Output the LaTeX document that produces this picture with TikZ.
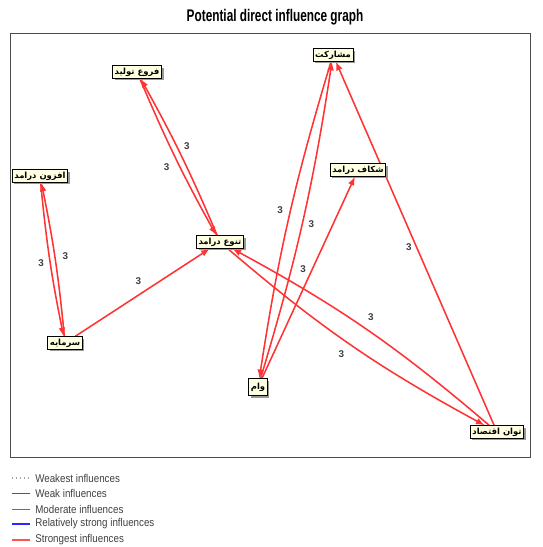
\documentclass[tikz,border=0pt]{standalone}
\usepackage{fontspec}
\setmainfont{Liberation Sans}
\newfontfamily\arabicfont[Script=Arabic]{DejaVu Sans}
\TeXXeTstate=1
\usetikzlibrary{shadows, arrows}
\definecolor{infred}{RGB}{255,51,51}
\definecolor{nodefill}{RGB}{255,255,225}
\definecolor{modblue}{RGB}{90,90,255}
\definecolor{strongblue}{RGB}{40,40,255}
\pgfdeclarelayer{bg}
\pgfsetlayers{bg,main}

\begin{document}
\begin{tikzpicture}[x=0.025cm, y=0.025cm,
    factor/.style={draw=black, fill=nodefill, line width=0.6pt, inner sep=1.5pt,
        font=\arabicfont\bfseries\fontsize{6}{7}\selectfont,
        drop shadow={shadow xshift=1.5pt, shadow yshift=-1.5pt, fill=gray!80, opacity=1}},
    weight/.style={font=\bfseries\fontsize{7}{8}\selectfont, text=black!75, inner sep=1pt},
    influence/.style={color=infred, line width=1.1pt, ->, >=latex},
    legendtext/.style={anchor=west, text=black!75, inner sep=0pt,
        font=\fontsize{8}{9}\selectfont}]
    \useasboundingbox (0,0) rectangle (542,-547);

    % title and frame
    \node[font=\bfseries\fontsize{12}{14}\selectfont] (title) at (275,-17)
        {\scalebox{0.7}[1]{Potential direct influence graph}};
    \draw[black!70, line width=0.6pt] (10,-33) rectangle (530,-457);

    % the factors
        \node[factor] (farua) at (137,-72) {\beginR فروع تولید\endR};
        \node[factor] (mosharekat) at (333,-55) {\beginR مشارکت\endR};
        \node[factor] (afzoon) at (40,-176) {\beginR افزون درامد\endR};
        \node[factor] (shekaf) at (358,-170) {\beginR شکاف درامد\endR};
        \node[factor] (tanavo) at (220,-242) {\beginR تنوع درامد\endR};
        \node[factor] (sarmaye) at (65,-343) {\beginR سرمایه\endR};
        \node[factor,
            inner ysep=3pt
            ] (vam) at (258,-387) {\beginR وام\endR};
        \node[factor] (tavan) at (497,-432) {\beginR توان اقتصاد\endR};

    % the influences
    \begin{pgfonlayer}{bg}
        \draw[influence]
            (farua) edge[bend right=3] node[weight, pos=0.56, left=6pt] {3} (tanavo)
            (tanavo) edge[bend right=3] node[weight, pos=0.57, right=4pt] {3} (farua)
            (afzoon) edge[bend right=3] node[weight, pos=0.52, left=3pt] {3} (sarmaye)
            (sarmaye) edge[bend right=3] node[weight, pos=0.52, right=4pt] {3} (afzoon)
            (sarmaye) edge node[weight, pos=0.47, above=6pt] {3} (tanavo)
            (vam) edge[bend right=4] node[weight, pos=0.49, right=3pt] {3} (mosharekat)
            (mosharekat) edge[bend right=4] node[weight, pos=0.47, left=4pt] {3} (vam)
            (vam) edge node[weight, pos=0.54, left=3pt] {3} (shekaf)
            (tavan) edge node[weight, pos=0.49, left=2pt] {3} (mosharekat)
            (tanavo) edge[bend right=6] node[weight, pos=0.46, below=7pt] {3} (tavan)
            (tavan) edge[bend right=6] node[weight, pos=0.48, above=7pt] {3} (tanavo)
            ;
    \end{pgfonlayer}

    % legend
    \draw[black!35, dotted, line width=0.8pt] (12,-478) -- (30,-478);
    \draw[black!65, line width=0.6pt] (12,-493) -- (30,-493);
    \draw[modblue, line width=0.6pt] (12,-509) -- (30,-509);
    \draw[strongblue, line width=1.5pt] (12,-524) -- (30,-524);
    \draw[infred!85, line width=1.5pt] (12,-540) -- (30,-540);
    \node[legendtext] (l1) at (35,-478) {\scalebox{0.87}[1]{Weakest influences}};
    \node[legendtext] (l2) at (35,-493) {\scalebox{0.87}[1]{Weak influences}};
    \node[legendtext] (l3) at (35,-509) {\scalebox{0.87}[1]{Moderate influences}};
    \node[legendtext] (l4) at (35,-524) {\scalebox{0.87}[1]{Relatively strong influences}};
    \node[legendtext] (l5) at (35,-540) {\scalebox{0.87}[1]{Strongest influences}};
\end{tikzpicture}
\end{document}
